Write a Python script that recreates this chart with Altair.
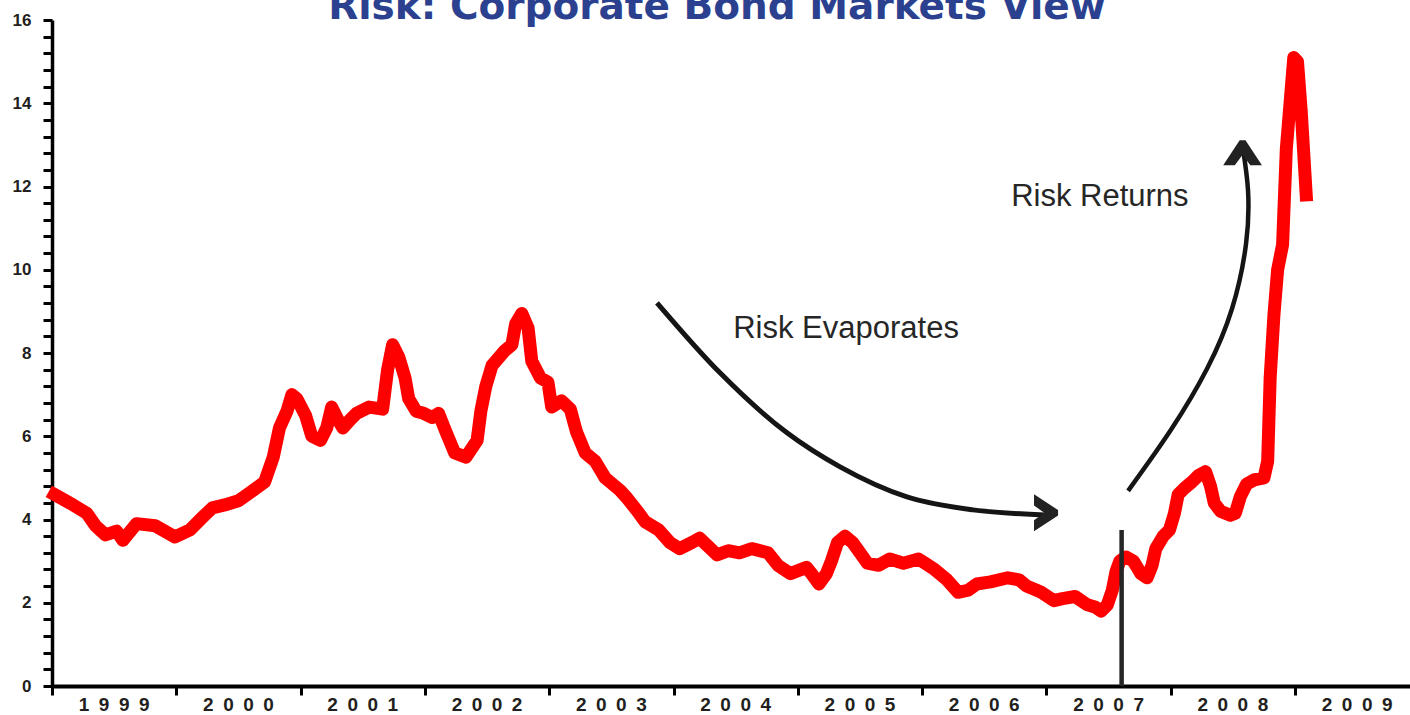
import altair as alt
import pandas as pd

# ---- data ----
years = [1999.02, 1999.17, 1999.28, 1999.35, 1999.43, 1999.52, 1999.57, 1999.68, 1999.83, 1999.99,
         2000.11, 2000.21, 2000.29, 2000.39, 2000.50, 2000.58, 2000.71, 2000.78, 2000.83, 2000.89,
         2000.93, 2000.97, 2001.04, 2001.09, 2001.16, 2001.21, 2001.25, 2001.30, 2001.34, 2001.40,
         2001.45, 2001.55, 2001.66, 2001.70, 2001.74, 2001.79, 2001.84, 2001.87, 2001.93, 2001.99,
         2002.06, 2002.11, 2002.17, 2002.24, 2002.33, 2002.42, 2002.45, 2002.49, 2002.54, 2002.64,
         2002.70, 2002.73, 2002.78, 2002.83, 2002.86, 2002.93, 2002.99, 2003.02, 2003.10, 2003.17,
         2003.22, 2003.29, 2003.37, 2003.45, 2003.51, 2003.57, 2003.63, 2003.71, 2003.77, 2003.88,
         2003.97, 2004.05, 2004.15, 2004.21, 2004.28, 2004.35, 2004.44, 2004.53, 2004.63, 2004.76,
         2004.84, 2004.94, 2005.07, 2005.11, 2005.17, 2005.23, 2005.27, 2005.32, 2005.38, 2005.44,
         2005.50, 2005.56, 2005.65, 2005.74, 2005.85, 2005.97, 2006.05, 2006.10, 2006.20, 2006.29,
         2006.37, 2006.44, 2006.55, 2006.69, 2006.78, 2006.84, 2006.96, 2007.06, 2007.13, 2007.23,
         2007.33, 2007.39, 2007.44, 2007.49, 2007.53, 2007.56, 2007.59, 2007.64, 2007.70, 2007.76,
         2007.81, 2007.85, 2007.88, 2007.94, 2007.99, 2008.03, 2008.06, 2008.11, 2008.17, 2008.22,
         2008.28, 2008.32, 2008.35, 2008.40, 2008.48, 2008.52, 2008.56, 2008.61, 2008.67, 2008.75,
         2008.78, 2008.80, 2008.83, 2008.86, 2008.90, 2008.93, 2008.96, 2008.99, 2009.02, 2009.05,
         2009.07, 2009.09]
spread = [4.6, 4.35, 4.15, 3.85, 3.63, 3.72, 3.5, 3.9, 3.85, 3.58,
          3.75, 4.05, 4.28, 4.35, 4.45, 4.62, 4.9, 5.5, 6.2, 6.6,
          7.0, 6.9, 6.5, 6.0, 5.9, 6.2, 6.7, 6.4, 6.2, 6.4,
          6.55, 6.7, 6.65, 7.6, 8.2, 7.9, 7.4, 6.9, 6.6, 6.55,
          6.45, 6.55, 6.1, 5.6, 5.5, 5.9, 6.6, 7.2, 7.7, 8.05,
          8.2, 8.7, 8.95, 8.6, 7.8, 7.4, 7.3, 6.7, 6.85, 6.65,
          6.1, 5.6, 5.4, 5.0, 4.85, 4.7, 4.5, 4.2, 3.95, 3.75,
          3.45, 3.3, 3.45, 3.55, 3.35, 3.15, 3.25, 3.2, 3.3, 3.2,
          2.9, 2.7, 2.85, 2.7, 2.45, 2.7, 3.0, 3.45, 3.6, 3.45,
          3.2, 2.95, 2.9, 3.05, 2.95, 3.05, 2.9, 2.8, 2.55, 2.25,
          2.3, 2.45, 2.5, 2.6, 2.55, 2.4, 2.25, 2.05, 2.1, 2.15,
          1.95, 1.9, 1.8, 1.95, 2.3, 2.75, 3.0, 3.1, 3.0, 2.7,
          2.6, 2.9, 3.3, 3.6, 3.75, 4.15, 4.6, 4.75, 4.9, 5.05,
          5.15, 4.8, 4.4, 4.2, 4.1, 4.15, 4.55, 4.85, 4.95, 5.0,
          5.4, 7.4, 8.9, 10.0, 10.6, 12.9, 14.0, 15.1, 15.0, 13.8,
          12.8, 11.8]

year_labels = ["1999", "2000", "2001", "2002", "2003", "2004", "2005", "2006", "2007", "2008", "2009"]
title_text = "Risk: Corporate Bond Markets View"

# annotation: vertical marker (August 2007)
event_year = [2007.605]
event_top = [3.75]

# annotation: curved arrows (in data units)
arrow1_x = [2003.867, 2004.374, 2004.913, 2005.340, 2005.878, 2006.409, 2006.989]
arrow1_y = [9.207, 7.524, 6.082, 5.264, 4.543, 4.231, 4.111]
arrow2_x = [2007.657, 2008.002, 2008.292, 2008.493, 2008.606, 2008.622, 2008.582]
arrow2_y = [4.688, 6.154, 7.620, 9.063, 10.625, 11.899, 12.885]
heads_x = [2006.997, 2008.578]
heads_y = [4.16, 12.81]
heads_angle = [0, 270]
heads_size = [1369, 1500]

notes_text = ["Risk Evaporates", "Risk Returns"]
notes_x = [2005.388, 2007.43]
notes_y = [8.58, 11.75]

# ---- layout ----
W, H = 1358, 666
x_dom = [1999, 2009.925]
xs = alt.Scale(domain=x_dom, nice=False, zero=False)
ys = alt.Scale(domain=[0, 16], nice=False)

tick_vals = [round(i * 0.4, 1) for i in range(41)]
AXY_STYLE = dict(grid=False, tickSize=9, tickWidth=3, tickColor="#000", domainColor="#000",
                 domainWidth=3.5, labelOverlap=False, labelFlush=False, labelPadding=12,
                 labelFont="Liberation Sans", labelFontWeight="bold", labelFontSize=17,
                 labelColor="#231F20")
AXX_STYLE = dict(grid=False, tickSize=9, tickWidth=3, tickColor="#000", domainColor="#000",
                 domainWidth=4)
XAX = alt.Axis(values=[int(y) for y in year_labels], labels=False, title=None, **AXX_STYLE)
YAX = alt.Axis(values=tick_vals, title=None,
               labelExpr="(datum.value % 2 == 0) ? format(datum.value, 'd') : ''",
               **AXY_STYLE)


def X(field):
    return alt.X(field, scale=xs, axis=XAX)


def Y(field):
    return alt.Y(field, scale=ys, axis=YAX)


series = pd.DataFrame({"year": years, "spread": spread})
line = alt.Chart(series).mark_line(
    color="#FF0000", strokeWidth=13, strokeJoin="round", strokeCap="square"
).encode(x=X("year:Q"), y=Y("spread:Q"))

rule = alt.Chart(pd.DataFrame({"x": event_year, "y0": [0], "y1": event_top})).mark_rule(
    color="#262626", strokeWidth=4.5
).encode(x=X("x:Q"), y=Y("y0:Q"), y2="y1:Q")

a1 = pd.DataFrame({"x": arrow1_x, "y": arrow1_y, "i": range(len(arrow1_x))})
a2 = pd.DataFrame({"x": arrow2_x, "y": arrow2_y, "i": range(len(arrow2_x))})
arrow1 = alt.Chart(a1).mark_line(color="#151515", strokeWidth=5, interpolate="monotone").encode(
    x=X("x:Q"), y=Y("y:Q"), order="i:O")
arrow2 = alt.Chart(a2).mark_line(color="#151515", strokeWidth=4.5, interpolate="natural").encode(
    x=X("x:Q"), y=Y("y:Q"), order="i:O")

chevron = "M-0.65,-1 L0.65,-0.15 L0.65,0.15 L-0.65,1 L-0.65,0.4 L-0.1,0 L-0.65,-0.4 Z"
heads = alt.Chart(pd.DataFrame({"x": heads_x, "y": heads_y, "a": heads_angle, "s": heads_size})).mark_point(
    shape=chevron, filled=True, color="#222222", opacity=1
).encode(x=X("x:Q"), y=Y("y:Q"),
         angle=alt.Angle("a:Q", scale=None), size=alt.Size("s:Q", scale=None))

notes = alt.Chart(pd.DataFrame({"t": notes_text, "x": notes_x, "y": notes_y})).mark_text(
    font="Liberation Sans", fontSize=31, color="#262626", align="center", baseline="middle"
).encode(x=X("x:Q"), y=Y("y:Q"), text="t:N")

xl = pd.DataFrame({"t": ["\u2002".join(s) for s in year_labels],
                   "x": [int(s) + 0.5 for s in year_labels]})
xlabels = alt.Chart(xl).mark_text(
    font="Liberation Sans", fontWeight="bold", fontSize=19, color="#231F20",
    align="center", baseline="middle"
).encode(x=X("x:Q"), y=alt.value(H + 19), text="t:N")

title = alt.Chart(pd.DataFrame({"t": [title_text]})).mark_text(
    font="DejaVu Sans", fontWeight="bold", fontSize=39, color="#2B4190",
    align="center", baseline="alphabetic"
).encode(x=alt.value(665), y=alt.value(-1), text="t:N")

chart = alt.layer(line, rule, arrow1, arrow2, heads, notes, xlabels, title).properties(
    width=W, height=H,
    autosize=alt.AutoSizeParams(type="none"),
    padding={"left": 52, "top": 20, "right": 0, "bottom": 29},
    background="white",
).configure_view(stroke=None).configure_axisY(**AXY_STYLE).configure_axisX(**AXX_STYLE)

chart.save("out.html", embed_options={"renderer": "svg", "actions": False})
